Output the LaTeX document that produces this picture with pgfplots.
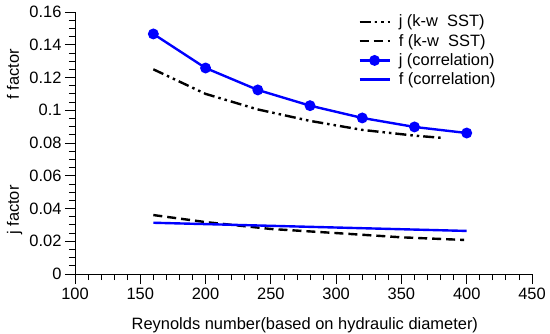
\documentclass[border=0pt]{standalone}
\usepackage{fontspec}
\setmainfont{Liberation Sans}
\usepackage{pgfplots}
\pgfplotsset{compat=1.18}
\begin{document}
\begin{tikzpicture}
\begin{axis}[
  name=ax,
  scale only axis,
  width=457bp, height=262bp,
  xmin=100, xmax=450, ymin=0, ymax=0.16,
  axis x line*=bottom, axis y line*=left,
  axis line style={line width=0.9bp},
  tick align=outside,
  xtick={100,150,...,450},
  ytick={0,0.02,...,0.16},
  minor x tick num=4, minor y tick num=3,
  major tick length=10bp, minor tick length=6bp,
  tick style={line width=0.8bp, black},
  scaled y ticks=false,
  yticklabel style={/pgf/number format/fixed, /pgf/number format/precision=2},
  /pgf/number format/assume math mode=true,
  ticklabel style={font=\fontsize{16.5}{18}\selectfont},
  legend style={at={(0.62,0.993)}, anchor=north west, draw=none, fill=none,
    inner sep=0pt, outer sep=0pt,
    font=\fontsize{16.5}{19}\selectfont, row sep=2.7bp,
    cells={anchor=west, inner ysep=2.5bp, text height=11bp, text depth=3.5bp},
    /tikz/every odd column/.append style={column sep=6bp}},
  legend image code/.code={\draw[mark repeat=2,mark phase=2,#1] plot coordinates {(0cm,0cm) (0.53cm,0cm) (1.06cm,0cm)};},
  clip=false,
]
\addplot[black, line width=2.4bp, dash pattern=on 11bp off 4bp on 2.5bp off 4bp on 2.5bp off 4bp]
  coordinates {(160,0.125) (200,0.110) (240,0.1005) (280,0.0935) (320,0.088) (360,0.0845) (383,0.083)};
\addlegendentry{j (k-w\ \ SST)}
\addplot[black, line width=2.4bp, dash pattern=on 9bp off 5bp]
  coordinates {(160,0.036) (200,0.0317) (250,0.0275) (300,0.025) (350,0.0224) (398,0.0208)};
\addlegendentry{f (k-w\ \ SST)}
\addplot[blue, line width=2.4bp, mark=*, mark size=4.2bp, mark options={solid}]
  coordinates {(160,0.1466) (200,0.1258) (240,0.1124) (280,0.1028) (320,0.0953) (360,0.0898) (400,0.0861)};
\addlegendentry{j (correlation)}
\addplot[blue, line width=2.4bp]
  coordinates {(160,0.0313) (400,0.0263)};
\addlegendentry{f (correlation)}
\node[anchor=base, font=\fontsize{16.5}{18}\selectfont] at ([yshift=-55bp]axis description cs:0.503,0) {Reynolds number(based on hydraulic diameter)};
\node[rotate=90, anchor=base, font=\fontsize{16.5}{18}\selectfont] at ([xshift=-56bp]axis description cs:0,0.763) {f factor};
\node[rotate=90, anchor=base, font=\fontsize{16.5}{18}\selectfont] at ([xshift=-56bp]axis description cs:0,0.244) {j factor};
\end{axis}
\pgfresetboundingbox
\path[use as bounding box] ([shift={(-75bp,-60bp)}]ax.south west) rectangle ([shift={(18bp,12bp)}]ax.north east);
\end{tikzpicture}
\end{document}
